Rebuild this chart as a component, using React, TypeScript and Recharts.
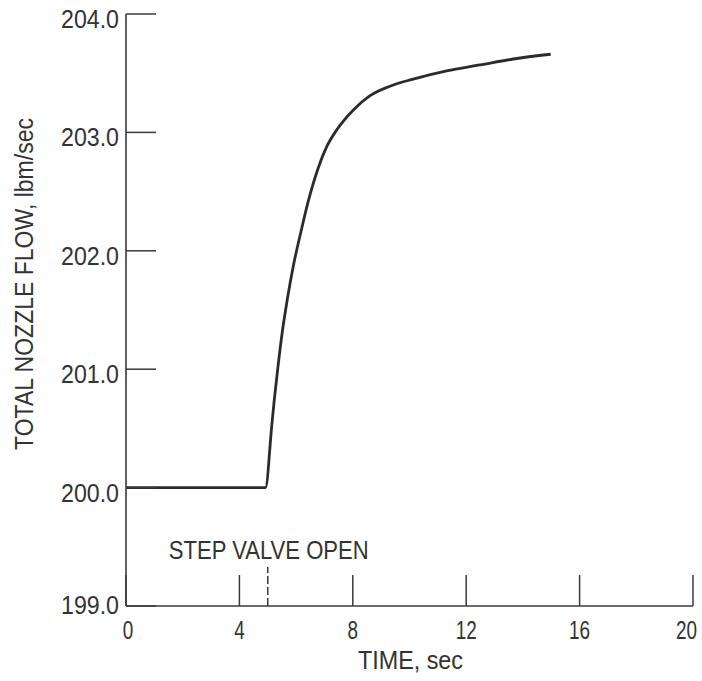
import React from 'react';
import { LineChart, Line, XAxis, YAxis, ReferenceLine } from 'recharts';

// ---- data ----
const timeSec = [0, 2, 4, 4.92, 5.14, 5.23, 5.36, 5.51, 5.69, 5.9, 6.16, 6.43, 6.78, 7.08, 7.43, 8.02, 8.61, 9.31, 10.13, 11.31, 12.49, 13.66, 14.98];
const flowLbmSec = [200.0, 200.0, 200.0, 200.0, 200.52, 200.74, 201.02, 201.31, 201.59, 201.87, 202.15, 202.42, 202.7, 202.88, 203.02, 203.19, 203.31, 203.39, 203.45, 203.52, 203.57, 203.62, 203.66];
const xTicks = [0, 4, 8, 12, 16, 20];
const yTicks = [199, 200, 201, 202, 203, 204];
const valveOpenTime = 5;
const valveMarkTop = 199.33;
const xLabel = 'TIME,  sec';
const yLabel = 'TOTAL NOZZLE FLOW,  lbm/sec';
const valveLabel = 'STEP VALVE OPEN';

const data = timeSec.map((t, i) => ({ t, flow: flowLbmSec[i] }));

const FONT = "'Liberation Sans', Arial, sans-serif";
const TEXT = '#333';
const INK = '#3a3a3a';
const Y_TICK_MARGIN = 8;
const X_TICK_MARGIN = 8;

// condensed text: the reference uses a condensed face, so glyphs are squeezed to the measured width
const CText = ({ x, y, w, size, anchor = 'middle', rotate, children }: any) => (
  <text
    x={x}
    y={y}
    transform={rotate ? `rotate(${rotate} ${x} ${y})` : undefined}
    textAnchor={anchor}
    fontFamily={FONT}
    fontSize={size}
    fill={TEXT}
    textLength={w}
    lengthAdjust="spacingAndGlyphs"
  >
    {children}
  </text>
);

const YTick = (props: any) => {
  const { x, y, payload, index } = props;
  const axisX = x + Y_TICK_MARGIN;
  const baseline = index === 0 ? 8 : 14;
  return (
    <g>
      <line x1={axisX} x2={axisX + 30} y1={y} y2={y} stroke={INK} strokeWidth={1.5} />
      <CText x={axisX - 7} y={y + baseline} w={58} size={26} anchor="end">
        {Number(payload.value).toFixed(1)}
      </CText>
    </g>
  );
};

const XTick = (props: any) => {
  const { x, y, payload, index } = props;
  const axisY = y - X_TICK_MARGIN;
  const label = String(payload.value);
  const isLast = index === xTicks.length - 1;
  const w = 10.5 * label.length;
  const tx = index === 0 ? x + 2 : isLast ? x + 4 : x;
  return (
    <g>
      <line x1={x} x2={x} y1={axisY} y2={axisY - 31} stroke={INK} strokeWidth={1.5} />
      <CText x={tx} y={axisY + 33} w={w} size={26} anchor={isLast ? 'end' : 'middle'}>
        {label}
      </CText>
    </g>
  );
};

const YAxisLabel = (props: any) => {
  const vb = props.viewBox || {};
  const cx = vb.x + 33;
  const cy = vb.y + vb.height / 2 - 26;
  return (
    <CText x={cx} y={cy} w={332} size={25} rotate={-90}>
      {yLabel}
    </CText>
  );
};

const XAxisLabel = (props: any) => {
  const vb = props.viewBox || {};
  const cx = vb.x + vb.width / 2 + 1;
  return (
    <CText x={cx} y={vb.y + 63} w={105} size={25}>
      {xLabel}
    </CText>
  );
};

const ValveLabel = (props: any) => {
  const vb = props.viewBox || {};
  return (
    <CText x={vb.x + 1} y={vb.y - 8} w={200} size={26}>
      {valveLabel}
    </CText>
  );
};

export default function App() {
  return (
    <div style={{ position: 'absolute', left: 0, top: 0, width: 702, height: 681, background: '#fff' }}>
      <LineChart width={702} height={681} data={data} margin={{ top: 14, right: 9, bottom: 5, left: 0 }}>
        <XAxis
          dataKey="t"
          type="number"
          domain={[0, 20]}
          ticks={xTicks}
          interval={0}
          height={70}
          tickSize={0}
          tickLine={false}
          tickMargin={X_TICK_MARGIN}
          tick={<XTick />}
          axisLine={{ stroke: INK, strokeWidth: 1.6 }}
          label={<XAxisLabel />}
        />
        <YAxis
          type="number"
          domain={[199, 204]}
          ticks={yTicks}
          interval={0}
          width={126}
          tickSize={0}
          tickLine={false}
          tickMargin={Y_TICK_MARGIN}
          tick={<YTick />}
          axisLine={{ stroke: INK, strokeWidth: 1.6 }}
          label={<YAxisLabel />}
        />
        <ReferenceLine
          segment={[{ x: valveOpenTime, y: 199 }, { x: valveOpenTime, y: valveMarkTop }]}
          stroke={INK}
          strokeWidth={1.5}
          strokeDasharray="8 3"
          label={<ValveLabel />}
        />
        <Line
          type="monotone"
          dataKey="flow"
          stroke="#2b2b2b"
          strokeWidth={2.8}
          dot={false}
          isAnimationActive={false}
        />
      </LineChart>
    </div>
  );
}
